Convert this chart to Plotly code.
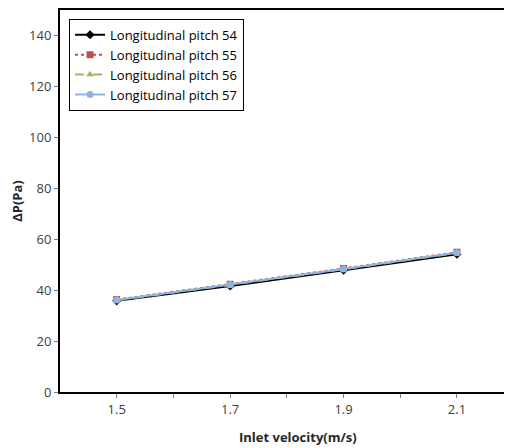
import plotly.graph_objects as go

velocity = [1.5, 1.7, 1.9, 2.1]
pitch54 = [35.8, 41.6, 47.8, 54.1]
pitch55 = [36.3, 42.3, 48.5, 54.9]
pitch56 = [36.0, 42.0, 48.2, 54.6]
pitch57 = [36.1, 42.1, 48.3, 54.7]
series_names = ["Longitudinal pitch 54", "Longitudinal pitch 55",
                "Longitudinal pitch 56", "Longitudinal pitch 57"]
x_tickvals = [1.5, 1.6, 1.7, 1.8, 1.9, 2.0, 2.1]
x_ticktext = ["1.5", "", "1.7", "", "1.9", "", "2.1"]
y_tickvals = [0, 20, 40, 60, 80, 100, 120, 140]

font_family = "Open Sans, Lato, sans-serif"

fig = go.Figure()
styles = [
    dict(color="black", dash="solid", symbol="diamond", msize=7),
    dict(color="#C0504D", dash="dot", symbol="square", msize=7),
    dict(color="#9BBB59", dash="dash", symbol="triangle-up", msize=7),
    dict(color="#8DB4E2", dash="solid", symbol="circle", msize=7),
]
for name, vals, st in zip(series_names, [pitch54, pitch55, pitch56, pitch57], styles):
    fig.add_trace(go.Scatter(
        x=velocity, y=vals, name=name, mode="lines+markers",
        line=dict(color=st["color"], dash=st["dash"], width=2),
        marker=dict(symbol=st["symbol"], size=st["msize"], color=st["color"]),
    ))

fig.add_annotation(
    text="<b>Inlet velocity(m/s)</b>", xref="paper", yref="paper",
    x=0.526, y=0, xanchor="center", yanchor="middle", yshift=-45,
    showarrow=False, font=dict(size=13, color="#262626"),
)

fig.update_layout(
    width=504, height=440,
    margin=dict(l=50, r=0, t=1, b=56),
    paper_bgcolor="white", plot_bgcolor="white",
    font=dict(family=font_family, size=13, color="#404040"),
    showlegend=True,
    legend=dict(
        x=0.02, y=0.977, xanchor="left", yanchor="top",
        bgcolor="white", bordercolor="black", borderwidth=1,
        font=dict(size=13, color="black"),
        tracegroupgap=0, itemwidth=30,
    ),
    xaxis=dict(
        range=[1.4, 2.197],
        tickvals=x_tickvals, ticktext=x_ticktext,
        ticks="outside", ticklen=4, tickcolor="#7f7f7f",
        showgrid=False, zeroline=False,
        showline=True, linecolor="black", linewidth=2, mirror=True,
        tickfont=dict(size=13, color="#404040"),
    ),
    yaxis=dict(
        range=[0, 150],
        tickvals=y_tickvals,
        ticks="outside", ticklen=4, tickcolor="#7f7f7f",
        showgrid=False, zeroline=False,
        showline=True, linecolor="black", linewidth=2, mirror=False,
        title=dict(text="<b>ΔP(Pa)</b>", font=dict(size=13, color="#262626"), standoff=12),
        tickfont=dict(size=13, color="#404040"),
    ),
)

fig.write_html("out.html")
